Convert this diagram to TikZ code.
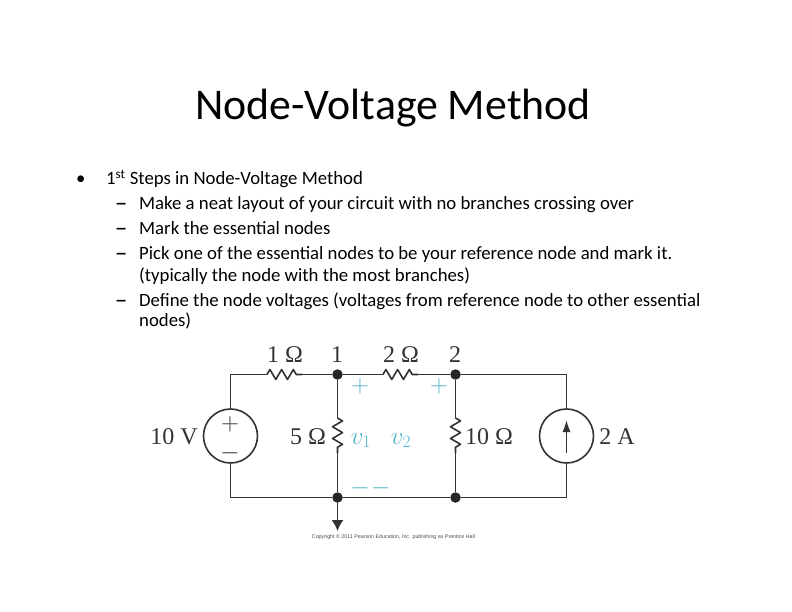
\documentclass[tikz,border=0pt]{standalone}
\usepackage{fontspec}
\setmainfont{Carlito}
\newfontfamily\labelfont{Liberation Serif}
\newfontfamily\smallfont{Liberation Sans}
\usetikzlibrary{arrows.meta, decorations.pathmorphing}

\definecolor{wirecol}{HTML}{333333}
\definecolor{vcol}{HTML}{4FB2CD}

\tikzset{
    wire/.style={draw=wirecol, line width=1.6pt},
    res/.style={wire, line join=round, decorate, decoration={zigzag, segment length=11.7pt, amplitude=5pt}},
    dot/.style={circle, fill=black!85, inner sep=0pt, minimum size=10.5pt},
    src/.style={circle, draw=wirecol, line width=1.6pt, fill=white, inner sep=0pt, minimum size=54pt},
    val/.style={font=\labelfont\fontsize{24}{24}\selectfont, text=wirecol, inner sep=0pt, anchor=base},
    vmark/.style={font=\labelfont\fontsize{24}{24}\selectfont, text=vcol, inner sep=0pt, anchor=base},
    item/.style={font=\fontsize{18.75}{18.75}\selectfont, inner sep=0pt, anchor=base west},
    dashitem/.style={item, xscale=1.35},
}

\begin{document}
\begin{tikzpicture}[x=1pt, y=-1pt]
        \useasboundingbox (0,0) rectangle (792,612);

        \node[font=\fontsize{43.8}{43.8}\selectfont, inner sep=0pt, anchor=base] (title) at (393,120) {Node-Voltage Method};

        \node[item] (b0) at (76,185) {\textbullet};
        \node[item] (l0) at (106,185) {1\textsuperscript{st} Steps in Node-Voltage Method};
        \node[dashitem] (d1) at (114.5,210) {\textbf{--}};
        \node[item] (l1) at (139,210) {Make a neat layout of your circuit with no branches crossing over};
        \node[dashitem] (d2) at (114.5,235) {\textbf{--}};
        \node[item] (l2) at (139,235) {Mark the essential nodes};
        \node[dashitem] (d3) at (114.5,260) {\textbf{--}};
        \node[item] (l3) at (139,260) {Pick one of the essential nodes to be your reference node and mark it.};
        \node[item] (l4) at (139,281) {(typically the node with the most branches)};
        \node[dashitem] (d5) at (114.5,306) {\textbf{--}};
        \node[item] (l5) at (139,306) {Define the node voltages (voltages from reference node to other essential};
        \node[item] (l6) at (139,326) {nodes)};

        % essential nodes
        \node[dot] (n1) at (337.5,374.5) {};
        \node[dot] (n2) at (455.5,374.5) {};
        \node[dot] (n3) at (337.5,497.5) {};
        \node[dot] (n4) at (455.5,497.5) {};

        % sources
        \node[src] (vs) at (230.5,436) {};
        \node[src] (is) at (566.5,436) {};
        \node[val] (vp) at (230,430) {$+$};
        \node[val] (vm) at (230,459) {$-$};

        % resistor ends
        \coordinate (r1a) at (267,374.5);
        \coordinate (r1b) at (302,374.5);
        \coordinate (r2a) at (383,374.5);
        \coordinate (r2b) at (418,374.5);
        \coordinate (r3a) at (337.5,418);
        \coordinate (r3b) at (337.5,453);
        \coordinate (r4a) at (455.5,418);
        \coordinate (r4b) at (455.5,453);
        \coordinate (gnd) at (337.5,531);
        \coordinate (ia) at (566.5,453);
        \coordinate (ib) at (566.5,420);

        \draw[wire] (vs) |- (r1a);
        \draw[res] (r1a) -- (r1b);
        \draw[wire] (r1b) -- (n1);
        \draw[wire] (n1) -- (r2a);
        \draw[res] (r2a) -- (r2b);
        \draw[wire] (r2b) -- (n2);
        \draw[wire] (n2) -| (is);
        \draw[wire] (is) |- (n4);
        \draw[wire] (n4) -- (n3);
        \draw[wire] (n3) -| (vs);
        \draw[wire] (n1) -- (r3a);
        \draw[res] (r3a) -- (r3b);
        \draw[wire] (r3b) -- (n3);
        \draw[wire] (n2) -- (r4a);
        \draw[res] (r4a) -- (r4b);
        \draw[wire] (r4b) -- (n4);
        \draw[wire, -{Latex[length=11pt, width=12pt]}] (n3) -- (gnd);
        \draw[wire, -{Latex[length=12pt, width=8pt]}] (ia) -- (ib);

        % values
        \node[val] (v1) at (285,362) {1 Ω};
        \node[val] (t1) at (337,362) {1};
        \node[val] (v2) at (401,362) {2 Ω};
        \node[val] (t2) at (455,362) {2};
        \node[val] (v3) at (174,444) {10 V};
        \node[val] (v5) at (308,444) {5 Ω};
        \node[val] (v4) at (489,444) {10 Ω};
        \node[val] (v6) at (617,444) {2 A};

        % node voltages
        \node[vmark] (p1) at (360,392) {$+$};
        \node[vmark] (p2) at (439,392) {$+$};
        \node[vmark] (u1) at (361,444) {$v_1$};
        \node[vmark] (u2) at (401,444) {$v_2$};
        \node[vmark] (m1) at (360,494) {$-$};
        \node[vmark] (m2) at (381,494) {$-$};

        \node[font=\smallfont\fontsize{5.3}{5.3}\selectfont, text=black!70, inner sep=0pt] (copy) at (393.5,537.5) {Copyright © 2011 Pearson Education, Inc. publishing as Prentice Hall};
\end{tikzpicture}
\end{document}
